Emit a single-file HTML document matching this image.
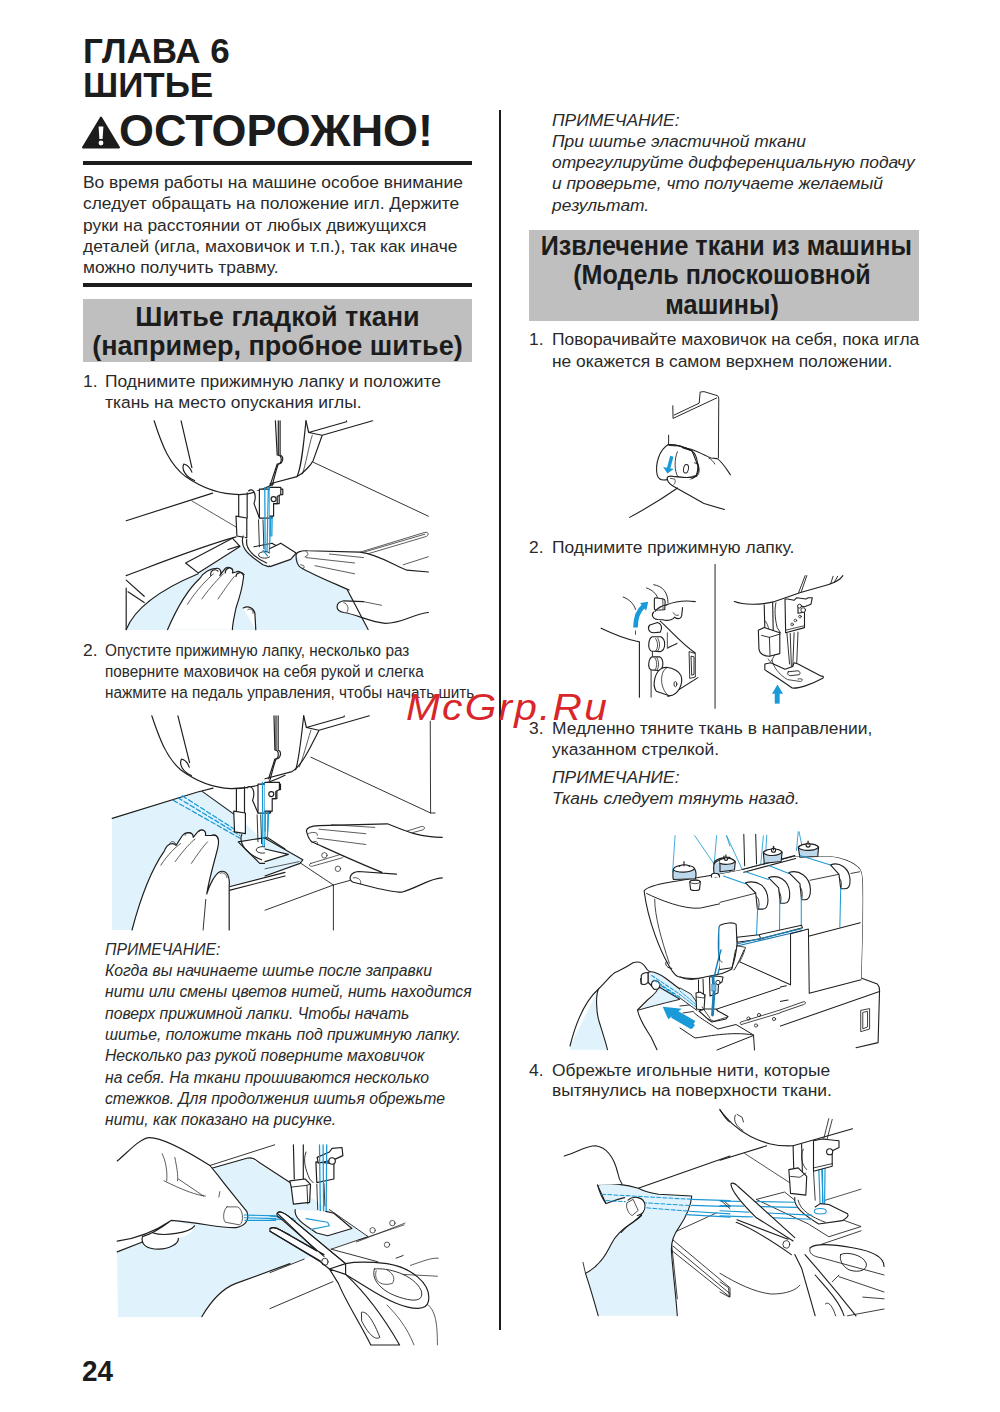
<!DOCTYPE html>
<html><head><meta charset="utf-8">
<style>
html,body{margin:0;padding:0;background:#fff;}
body{width:1000px;height:1412px;position:relative;overflow:hidden;font-family:"Liberation Sans",sans-serif;color:#2a2a2a;}
.a{position:absolute;white-space:nowrap;}
.h1{font-weight:bold;font-size:35px;line-height:35px;color:#1c1c1c;}
.warn{font-weight:bold;font-size:44.9px;line-height:44.5px;color:#1c1c1c;}
.rule{position:absolute;background:#1c1c1c;height:4px;}
.p{font-size:17.4px;line-height:21.3px;}
.gbox{position:absolute;background:#bfbfbf;}
.gh{position:absolute;font-weight:bold;font-size:27px;line-height:29.4px;color:#1c1c1c;text-align:center;white-space:nowrap;}
.it{font-style:italic;}
.num{position:absolute;font-size:17.4px;line-height:21.3px;}
.vline{position:absolute;background:#1c1c1c;}
svg{position:absolute;overflow:visible;}
</style></head><body>
<!-- headings -->
<div class="a h1" style="left:83px;top:32.6px;">ГЛАВА 6</div>
<div class="a h1" style="left:83px;top:67.2px;">ШИТЬЕ</div>
<svg style="left:82px;top:116px;" width="38" height="33" viewBox="0 0 38 33"><path d="M19 1.5 L37 31.5 L1 31.5 Z" fill="#1c1c1c" stroke="#1c1c1c" stroke-width="2" stroke-linejoin="round"/><path d="M16.6 10.5 L21.4 10.5 L20.6 23 L17.4 23 Z" fill="#fff"/><circle cx="19" cy="27" r="2.4" fill="#fff"/></svg>
<div class="a warn" style="left:119px;top:109.2px;">ОСТОРОЖНО!</div>
<div class="rule" style="left:83px;top:161px;width:389px;"></div>
<div class="a p" style="left:83px;top:172.2px;">Во время работы на машине особое внимание<br>следует обращать на положение игл. Держите<br>руки на расстоянии от любых движущихся<br>деталей (игла, маховичок и т.п.), так как иначе<br>можно получить травму.</div>
<div class="rule" style="left:83px;top:282.5px;width:389px;"></div>
<div class="gbox" style="left:83px;top:299px;width:389px;height:62.5px;"></div>
<div class="gh" style="left:83px;width:389px;top:302.8px;">Шитье гладкой ткани<br>(например, пробное шитье)</div>
<!-- left item 1 -->
<div class="num" style="left:83px;top:371.2px;">1.</div>
<div class="a p" style="left:105px;top:371.2px;">Поднимите прижимную лапку и положите<br>ткань на место опускания иглы.</div>
<!-- left item 2 -->
<div class="num" style="left:83px;top:639.5px;">2.</div>
<div class="a p" style="left:105px;top:639.5px;transform:scaleX(0.88);transform-origin:0 0;">Опустите прижимную лапку, несколько раз<br>поверните маховичок на себя рукой и слегка<br>нажмите на педаль управления, чтобы начать шить.</div>
<!-- left note -->
<div class="a p it" style="left:105px;top:938.9px;transform:scaleX(0.905);transform-origin:0 0;">ПРИМЕЧАНИЕ:<br>Когда вы начинаете шитье после заправки<br>нити или смены цветов нитей, нить находится<br>поверх прижимной лапки. Чтобы начать<br>шитье, положите ткань под прижимную лапку.<br>Несколько раз рукой поверните маховичок<br>на себя. На ткани прошиваются несколько<br>стежков. Для продолжения шитья обрежьте<br>нити, как показано на рисунке.</div>
<div class="a" style="left:81.5px;top:1356.4px;font-weight:bold;font-size:30px;line-height:30px;color:#1c1c1c;transform:scaleX(0.93);transform-origin:0 0;">24</div>

<div class="vline" style="left:499px;top:110px;width:2.2px;height:1220px;"></div>

<!-- right column -->
<div class="a p it" style="left:552px;top:109.6px;">ПРИМЕЧАНИЕ:<br>При шитье эластичной ткани<br>отрегулируйте дифференциальную подачу<br>и проверьте, что получаете желаемый<br>результат.</div>
<div class="gbox" style="left:529px;top:230px;width:390px;height:90.5px;"></div>
<div class="gh" style="left:527px;width:390px;top:231.8px;"><div style="transform:scaleX(0.93);">Извлечение ткани из машины<br>(Модель плоскошовной<br>машины)</div></div>
<div class="num" style="left:529px;top:329.4px;">1.</div>
<div class="a p" style="left:552px;top:329.4px;">Поворачивайте маховичок на себя, пока игла<br>не окажется в самом верхнем положении.</div>
<div class="num" style="left:529px;top:536.5px;">2.</div>
<div class="a p" style="left:552px;top:536.5px;">Поднимите прижимную лапку.</div>
<div class="num" style="left:529px;top:718.2px;">3.</div>
<div class="a p" style="left:552px;top:718.2px;line-height:20.5px;">Медленно тяните ткань в направлении,<br>указанном стрелкой.</div>
<div class="a p it" style="left:552px;top:767.4px;line-height:20.5px;">ПРИМЕЧАНИЕ:<br>Ткань следует тянуть назад.</div>
<div class="num" style="left:529px;top:1059.5px;">4.</div>
<div class="a p" style="left:552px;top:1059.5px;line-height:20.6px;">Обрежьте игольные нити, которые<br>вытянулись на поверхности ткани.</div>
<svg style="left:0;top:0;" width="1000" height="1412" viewBox="0 0 1000 1412" fill="none" stroke="#1e1e1e" stroke-linecap="round" stroke-linejoin="round">
<!-- illustration 1 -->
<g id="ill1">
<path d="M126,630 C133,612 155,592 198,574 L240,547 L252,548 L281,543 L297,554 C300,565 330,580 346,588 C355,600 362,615 367,630 Z" fill="#e0f3fc" stroke="none"/>
<g transform="translate(110,410) scale(0.18)" stroke-width="6.5">
 <path d="M245,60 C290,200 330,300 420,370 C520,440 620,470 720,470 C800,468 860,440 909,410" fill="#fff"/>
 <path d="M395,60 L455,320"/>
 <path d="M410,300 C395,330 420,370 470,392 M410,300 C430,305 445,320 455,345"/>
 <path d="M90,615 L570,462"/>
 <path d="M455,505 L700,650" stroke-width="4"/>
 <path d="M90,920 C250,860 500,760 700,705"/>
 <path d="M420,850 L680,712 L722,758 L490,905 Z" fill="#fff"/>
 <path d="M655,775 L720,755"/>
 <path d="M90,945 L190,1035 M90,990 L90,1220 M100,1010 L190,1070"/>
 <path d="M90,1220 C130,1120 250,1010 490,910"/>
 <path d="M715,470 L715,600 M762,460 L762,600"/>
 <path d="M700,590 L760,600 L760,710 L705,700 Z" fill="#fff"/>
 <path d="M740,700 C720,760 760,800 850,860 L880,870 C960,840 1000,810 1000,800 L900,740 L800,760" fill="#fff"/>
 <path d="M760,720 C750,770 800,820 870,850"/>
 <path d="M770,450 C790,430 820,460 800,520 L830,600 L900,600 L910,450" fill="#fff"/>
 <path d="M830,440 L960,440 L960,470 L940,470 L940,520 L900,520 L900,600 L830,600 Z" fill="#fff"/>
 <circle cx="910" cy="495" r="14" fill="#fff"/>
 <path d="M825,610 L830,760 M850,610 L855,770" stroke-width="5"/>
 <path d="M860,430 L862,800 M880,430 L872,800 M900,430 L885,790" stroke="#1a98d5" stroke-width="7"/>
 <ellipse cx="860" cy="805" rx="35" ry="18" fill="#fff" stroke-width="5"/>
 <path d="M850,780 L875,810" stroke="#1a98d5" stroke-width="7"/>
 <path d="M935,60 L935,250 M945,60 L945,250 C970,260 960,300 935,300 C920,340 910,390 900,420" />
 <path d="M320,1220 C380,1080 440,990 500,935 C520,900 560,880 590,880 C610,875 625,900 610,920 L640,880 C660,865 690,880 680,905 L700,900 C720,890 750,910 740,940 C735,990 720,1040 700,1100 C690,1150 680,1190 680,1220" fill="#fff"/>
 <path d="M560,920 C555,890 585,880 600,895 M640,905 C640,880 665,870 680,885 M700,925 C700,905 730,895 745,915" />
 <path d="M430,1080 C480,1000 540,940 575,910 M510,1050 C560,980 600,940 630,910 M600,1050 C640,990 670,950 690,925" stroke-width="4"/>
 <path d="M740,1100 C770,1085 800,1100 805,1130 L810,1220" fill="#fff"/>
 <path d="M765,1110 C775,1100 795,1105 795,1130" stroke-width="4"/>
</g>
<g transform="translate(270,410) scale(0.18)" stroke-width="6.5">
 <path d="M0,410 L150,370 C190,350 230,300 240,280 L290,140 L570,60 M200,60 L215,125 L290,140 M215,125 L425,65 L425,60" fill="none"/>
 <path d="M200,60 C185,200 175,320 150,370" />
 <path d="M235,140 C215,200 200,300 180,355" stroke-width="4"/>
 <path d="M30,60 L40,250 C70,250 70,300 40,300 L0,420" />
 <path d="M240,290 L880,590" stroke-width="5"/>
 <path d="M0,770 L60,740 L145,795 L115,830 L0,870" fill="#fff"/>
 <path d="M500,790 L860,680 C885,675 885,700 860,705 L540,800" stroke-width="4"/>
 <path d="M520,790 L860,690" stroke-width="4"/>
 <path d="M740,860 L880,815" stroke-width="4"/>
 <path d="M145,815 C140,790 170,780 210,782 L500,790 C600,800 700,870 760,890 L880,900 L880,1125 C800,1130 740,1185 640,1185 C560,1180 480,1135 410,1125 C360,1115 360,1070 410,1060 L520,1065 L440,1000 C350,960 250,920 180,880 C150,870 155,830 170,830 Z" fill="#fff" stroke="none"/>
 <path d="M145,815 C140,790 170,780 210,782 L500,790 C600,800 700,870 760,890 L880,900 M880,1125 C800,1130 740,1185 640,1185 C560,1180 480,1135 410,1125 C360,1115 360,1070 410,1060 L520,1065 M440,1000 C350,960 250,920 180,880 C150,870 145,830 145,815"/>
 <path d="M200,785 C215,795 215,810 195,815 M170,860 C190,860 200,875 180,882" stroke-width="4"/>
 <path d="M200,820 L470,850 M250,865 L470,910 M330,800 L520,820" stroke-width="4"/>
 <path d="M430,1000 L545,1220" />
 <path d="M410,1070 C430,1075 440,1100 430,1120 M520,1065 L620,1085" stroke-width="4"/>
 <path d="M0,430 L0,700 M15,430 L10,700" stroke="#1a98d5" stroke-width="7"/>
 <path d="M0,430 L60,430 L60,470 L40,480 L40,520 L20,520 L20,590 L0,590" fill="#fff"/>
 <circle cx="20" cy="495" r="14" fill="#fff"/>
</g>
</g>

<!-- illustration 2 -->
<g id="ill2">
<path d="M112,818 L197,792 L202,791 L235,813 L285,863 L303,860 L300,863 L265,876 L229,887 L229,930 L112,930 Z" fill="#e0f3fc" stroke="none"/>
<g transform="translate(105,705) scale(0.18)" stroke-width="6.5">
 <path d="M260,60 C300,180 340,290 420,360 C500,420 600,460 700,465 C820,465 920,430 1000,390" fill="#fff"/>
 <path d="M405,60 L470,320"/>
 <path d="M425,300 C410,330 430,370 480,392 M425,300 C445,305 460,320 468,345"/>
 <path d="M40,630 L510,485 L600,462"/>
 <path d="M540,480 L735,620" stroke-width="6"/>
 <path d="M380,530 L750,740 M405,515 L750,725 M430,505 L750,710" stroke="#1a98d5" stroke-width="7" stroke-dasharray="26,14"/>
 <path d="M730,465 L730,600 M775,455 L775,600"/>
 <path d="M715,590 L780,600 L780,715 L720,705 Z" fill="#fff"/>
 <path d="M740,760 L900,735 L1000,800 L1000,880 L860,880 Z" fill="#fff"/>
 <path d="M760,720 C740,770 790,830 870,860"/>
 <path d="M790,460 C810,440 840,470 820,530 L850,600 L920,600 L930,460" fill="#fff"/>
 <path d="M850,440 L975,440 L975,470 L955,470 L955,520 L915,520 L915,600 L850,600 Z" fill="#fff"/>
 <circle cx="925" cy="495" r="14" fill="#fff"/>
 <path d="M845,610 L850,760 M865,610 L870,770" stroke-width="5"/>
 <path d="M875,430 L877,800 M895,430 L887,800 M915,430 L900,790" stroke="#1a98d5" stroke-width="7"/>
 <ellipse cx="875" cy="805" rx="35" ry="18" fill="#fff" stroke-width="5"/>
 <path d="M950,60 L950,250 M962,60 L962,250 C985,260 975,300 950,300 C935,340 925,390 915,420"/>
 <path d="M690,1010 L1000,930 M690,1030 L1000,950"/>
 <path d="M150,1250 C200,1060 260,910 330,810 C345,770 380,760 395,780 L430,725 C450,700 490,705 490,735 L515,705 C535,685 565,695 558,725 L590,725 C625,715 640,745 625,800 C605,880 580,960 565,1050 C580,1000 610,940 640,925 C680,915 695,960 690,1010 L690,1250" fill="#fff"/>
 <path d="M360,770 C365,755 385,755 392,770 M445,725 C450,705 480,705 488,720 M520,705 C530,690 555,690 558,710 M590,725 C605,715 630,720 628,745 M640,935 C655,925 675,940 678,960" stroke-width="4"/>
 <path d="M310,890 C350,830 390,790 420,770 M390,870 C440,800 480,760 500,745 M480,880 C520,820 550,780 570,760" stroke-width="4"/>
 <path d="M545,1250 L560,1080" stroke-width="5"/>
</g>
<g transform="translate(265,705) scale(0.18)" stroke-width="6.5">
 <path d="M0,410 L150,370 C200,340 240,260 300,140 L580,60 M215,60 L230,125 L300,140 M230,125 L440,65 L440,60"/>
 <path d="M215,60 C200,200 185,320 170,360"/>
 <path d="M255,140 C230,220 210,300 190,345" stroke-width="4"/>
 <path d="M50,60 L55,250 C80,250 80,300 55,300 L20,410"/>
 <path d="M255,290 L920,600 L945,600 M918,90 L920,600" stroke-width="5"/>
 <path d="M0,740 L210,860 L195,880 L0,950" fill="#e0f3fc"/>
 <path d="M0,910 L190,870" stroke-width="4"/>
 <path d="M200,880 L380,1000 L380,1250 M380,1000 L470,975 M0,1140 L380,1000" stroke-width="5"/>
 <path d="M255,880 L420,830 C440,825 445,845 425,850 L265,895 C245,900 240,885 255,880 Z" stroke-width="4"/>
 <circle cx="330" cy="835" r="15" stroke-width="4"/>
 <circle cx="405" cy="910" r="15" stroke-width="4"/>
 <path d="M790,700 L870,675 C890,672 892,690 872,695 L810,712" stroke-width="4"/>
 <path d="M230,700 C230,680 260,672 300,670 L680,660 C760,690 840,735 985,735 L985,960 C920,960 860,1010 760,1040 C680,1040 560,1000 490,985 C460,970 470,930 520,925 L640,930 C500,870 350,800 260,760 C240,745 235,720 230,700 Z" fill="#fff" stroke="none"/>
 <path d="M230,700 C230,680 260,672 300,670 L680,660 C760,690 840,735 985,735 M985,960 C920,960 860,1010 760,1040 C680,1040 560,1000 490,985 C460,970 470,930 520,925 L730,940 M650,930 C500,870 350,800 260,760 C240,745 235,720 230,700"/>
 <path d="M300,690 L560,715 M290,740 L560,775 M370,665 L610,680" stroke-width="4"/>
 <path d="M240,715 C270,700 300,710 290,725 M260,765 C280,750 300,760 290,775 M490,960 C520,955 540,975 530,995" stroke-width="4"/>
 <path d="M0,430 L0,700 M20,430 L15,700" stroke="#1a98d5" stroke-width="7"/>
 <path d="M0,430 L80,430 L80,470 L60,480 L60,520 L40,520 L40,590 L0,590" fill="#fff"/>
 <circle cx="35" cy="495" r="14" fill="#fff"/>
 <path d="M0,800 L130,830 L0,870" fill="#fff"/>
</g>
</g>

<!-- illustration 3 -->
<g id="ill3">
<path d="M117,1252 L118,1317 L202,1317 C210,1300 225,1288 236,1283 L304,1259 L331,1249 L367,1236 L329,1210 L290,1183 L249,1158 L212,1168 L180,1222 L142,1242 Z" fill="#e0f3fc" stroke="none"/>
<g transform="translate(110,1125) scale(0.18)" stroke-width="6.5">
 <path d="M555,225 L915,110" stroke-width="5"/>
 <path d="M565,240 L760,185 C790,178 805,190 825,205 L1000,320"/>
 <path d="M40,705 L180,650"/>
 <path d="M510,1065 C560,980 620,910 700,880 L1000,770"/>
 <path d="M40,200 C100,150 170,70 220,70 C290,70 420,140 555,225 L600,280 C660,360 720,430 760,480 C775,520 760,560 700,570 C620,575 520,545 340,530 C250,590 150,630 40,645 Z" fill="#fff" stroke="none"/>
 <path d="M180,615 C170,660 200,690 270,690 C330,690 380,660 380,630 C420,620 460,600 470,560 L340,530 Z" fill="#fff" stroke="none"/>
 <path d="M40,200 C100,150 170,70 220,70 C290,70 420,140 555,225 L600,280 C660,360 720,430 760,480 C775,520 760,560 700,570 C620,575 520,545 340,530 C300,560 250,600 180,620 C170,660 200,690 270,690 C330,690 380,660 380,630 M240,600 C300,620 440,600 470,560 M40,645 C150,630 250,590 340,530"/>
 <path d="M650,455 L710,455 C740,470 745,540 720,555 L640,540 C625,520 630,470 650,455 Z" stroke-width="4"/>
 <path d="M290,160 C310,200 320,260 315,310 M360,180 C370,230 380,280 375,310 M300,310 C400,360 480,390 530,395 M380,300 L520,395 M610,370 L605,400" stroke-width="4"/>
 <path d="M745,500 L920,505 M745,515 L920,520 M750,530 L920,530" stroke="#1a98d5" stroke-width="6"/>
 <path d="M930,490 C940,475 970,495 1000,520 M900,580 C885,565 920,568 1000,610" stroke-width="5"/>
</g>
<g transform="translate(270,1125) scale(0.18)" stroke-width="6.5">
 <path d="M480,650 L750,545 M490,640 L745,555" stroke-width="4"/>
 <circle cx="570" cy="585" r="15" stroke-width="4"/><circle cx="680" cy="545" r="15" stroke-width="4"/><circle cx="650" cy="665" r="15" stroke-width="4"/>
 <path d="M340,690 L600,760 M0,1020 L350,870 M700,740 L740,725 M0,820 L190,745 M340,690 L545,620 L330,470" stroke-width="5"/>
 <path d="M130,110 L135,300 M185,110 L185,330"/>
 <path d="M200,150 C180,200 200,250 220,300 L240,320" stroke-width="5"/>
 <path d="M255,205 L260,320 L355,300 L355,215 Z" fill="#fff"/>
 <path d="M262,180 L330,150 L345,130 L400,125 L405,170 L350,195 L268,212 Z" fill="#fff"/>
 <circle cx="345" cy="200" r="18" fill="#fff"/>
 <path d="M110,310 L195,300 L225,330 L220,430 L130,440 L118,345 Z" fill="#fff"/>
 <path d="M118,345 L205,335 L220,330 M205,335 L210,438" stroke-width="5"/>
 <path d="M300,325 L305,450 M260,330 L265,470" stroke-width="5"/>
 <path d="M275,110 L280,500 M295,110 L298,510 M315,110 L312,500" stroke="#1a98d5" stroke-width="7"/>
 <path d="M140,470 C130,520 200,560 260,600 L320,615 L455,575 L355,490 L310,480" fill="#fff"/>
 <path d="M200,520 L320,540 L330,560 L230,580" stroke="#1a98d5" stroke-width="6"/>
 <path d="M0,505 L130,520 M0,520 L140,530" stroke="#1a98d5" stroke-width="6"/>
 <path d="M40,490 C50,475 75,485 100,505 L420,770 L330,800 L280,760 L0,590 L0,575 C20,565 40,572 60,585 L260,700 Z" fill="#fff"/>
 <path d="M40,490 C50,475 75,485 100,505 L420,770 M40,490 C35,500 40,510 60,520 L300,730 M0,575 C20,565 40,572 60,585 L300,720 M0,590 L280,755" />
 <ellipse cx="305" cy="760" rx="18" ry="20" stroke-width="5"/>
 <path d="M420,770 C470,760 560,760 650,770 C780,790 900,880 880,980 C870,1030 800,1030 700,990 C600,950 540,900 420,830 Z" fill="#fff"/>
 <path d="M580,800 C650,790 800,830 840,920 C860,990 780,980 700,950 C620,920 560,860 580,800 Z" stroke-width="5"/>
 <path d="M590,810 C575,860 610,900 680,880 C700,850 680,820 650,805" stroke-width="4"/>
 <path d="M330,800 L380,880 C420,980 500,1100 560,1222 L720,1222 C650,1100 560,960 420,830 Z" fill="#fff"/>
 <path d="M510,1040 C540,1030 580,1100 610,1180 C580,1200 540,1150 510,1090 Z" stroke-width="5"/>
 <path d="M780,780 C840,760 900,735 935,740 M740,830 L930,840 M880,1000 C920,1040 930,1100 930,1222 M650,1000 C700,1050 760,1120 800,1222" stroke-width="4"/>
</g>
</g>

<!-- illustration 4: flywheel -->
<g id="ill4" transform="translate(620,380) scale(0.12)" stroke-width="9">
 <path d="M440,215 L442,320 L805,150 M452,292 L660,193 L668,100 L700,97 L810,130 C820,135 823,145 823,160 L820,650" stroke-width="8"/>
 <path d="M405,460 L405,530" stroke-width="8"/>
 <path d="M400,540 C330,580 290,700 310,790 C320,830 350,840 395,830 L460,805 C540,815 620,820 640,790 C660,760 660,700 640,690 L600,590 C540,560 470,530 400,540 Z" fill="#fff"/>
 <path d="M400,540 C450,532 540,560 600,592 C650,630 660,740 635,795 C615,825 580,830 540,820" fill="none"/>
 <path d="M478,598 C452,660 452,760 482,805" stroke-width="7"/>
 <ellipse cx="550" cy="740" rx="20" ry="36" transform="rotate(10 550 740)" stroke-width="8"/>
 <path d="M640,700 C665,705 670,790 640,800 M620,690 L650,700 M610,800 L640,805" stroke-width="7"/>
 <path d="M410,545 L470,550 M530,570 L600,590" stroke-width="7"/>
 <path d="M520,565 C600,560 680,620 760,650 L810,655 C850,680 880,730 920,790" />
 <path d="M740,650 C760,660 780,680 790,700" stroke-width="7"/>
 <path d="M395,830 C385,805 410,795 450,805 L510,810 C560,815 620,815 640,790 L470,900 C430,890 400,860 395,830 Z" fill="#fff" stroke="none"/>
 <path d="M395,830 C385,805 410,795 450,805 L510,810 C560,815 620,815 640,790"/>
 <path d="M395,830 C400,860 430,880 470,900 C560,950 650,1000 700,1030 L870,1080"/>
 <path d="M420,820 L455,825 C465,840 460,860 450,870" stroke-width="6"/>
 <path d="M80,1145 C200,1080 380,970 480,900"/>
 <path d="M432,635 L405,735" stroke="#1a9ad8" stroke-width="28" stroke-linecap="butt"/>
 <path d="M360,725 L395,780 L448,742 Z" fill="#1a9ad8" stroke="none"/>
</g>

<!-- illustration 5: lever + presser foot -->
<g id="ill5a" transform="translate(590,560) scale(0.13)" stroke-width="8.5">
 <path d="M962,35 L962,1140" stroke="#555" stroke-width="10"/>
 <path d="M85,525 C180,570 280,610 360,625 L380,630 L380,1055"/>
 <path d="M470,850 L470,1055 M480,700 L480,740" stroke-width="7"/>
 <path d="M255,285 C300,300 340,340 350,380 M435,215 C480,230 510,260 520,290 M490,190 C560,200 600,250 600,330" stroke-width="7"/>
 <path d="M505,290 L565,300 C575,302 578,310 578,320 L575,385 L505,385 C498,385 495,380 495,370 L495,300 C495,293 500,290 505,290 Z" fill="#fff"/>
 <path d="M560,300 L562,385" stroke-width="6"/>
 <path d="M590,345 C650,320 730,310 810,320" />
 <path d="M540,470 C620,540 700,640 810,715" />
 <path d="M595,560 L595,680 L670,640 M600,672 L668,645" stroke-width="6"/>
 <path d="M460,500 C440,520 450,560 490,560 L540,555 C560,520 550,490 520,480 Z" fill="#fff"/>
 <path d="M490,400 C470,420 480,455 520,458 L560,460 C600,470 640,460 650,440 C680,460 700,450 705,430 L712,365 M590,345 C560,350 520,370 500,395" fill="#fff"/>
 <path d="M640,405 C650,420 660,430 680,425" stroke-width="6"/>
 <path d="M480,590 C450,600 440,680 470,700 L540,705 C585,690 585,610 545,590 Z" fill="#fff"/>
 <path d="M505,605 C525,630 525,680 505,700 M520,600 C540,630 540,680 520,700" stroke-width="6"/>
 <path d="M480,745 C450,755 440,830 470,845 L530,850 C570,835 570,765 535,745 Z" fill="#fff"/>
 <path d="M500,755 C518,780 518,825 500,845 M515,752 C532,780 532,825 515,848" stroke-width="6"/>
 <path d="M600,1050 L830,905" />
 <path d="M765,705 L810,720 L810,900 L770,910 Z M780,740 L800,745 L800,880 L785,885 Z" stroke-width="7"/>
 <path d="M560,830 C500,850 475,960 510,1010 L610,1045 C680,1040 720,950 700,890 C690,860 640,830 590,825 Z" fill="#fff"/>
 <path d="M590,830 C540,850 530,980 600,1040" stroke-width="6"/>
 <ellipse cx="657" cy="955" rx="11" ry="20" stroke-width="7"/>
 <path d="M350,520 C350,440 375,385 415,352" stroke="#1a9ad8" stroke-width="36" stroke-linecap="butt"/>
 <path d="M385,330 L448,322 L432,390 Z" fill="#1a9ad8" stroke="none"/>
 <path d="M350,545 L350,572" stroke-width="6"/>
</g>
<g id="ill5b" transform="translate(720,560) scale(0.13)" stroke-width="8.5">
 <path d="M110,320 C180,345 300,350 420,320 L620,250 L830,190 C880,175 920,160 945,120"/>
 <path d="M605,250 L655,120 M625,245 L668,120 M850,185 L870,125 M880,170 L905,125" stroke-width="7"/>
 <path d="M340,345 L345,530 M405,330 L410,575" />
 <path d="M430,330 C420,380 420,440 440,520 L465,560" stroke-width="7"/>
 <path d="M350,470 C370,500 380,540 385,580" stroke-width="6"/>
 <path d="M515,565 L535,800 M540,565 L550,840 M570,560 L560,820 M600,555 L590,800" stroke-width="7"/>
 <path d="M500,300 L505,560 L650,520 L650,400 L600,410 L600,350 L650,360 L700,340 L710,290 L680,290 L660,300 L590,290 L570,310 L520,300 Z" fill="#fff"/>
 <path d="M505,540 L650,505" stroke-width="6"/>
 <circle cx="615" cy="435" r="10" stroke-width="6"/><circle cx="580" cy="465" r="10" stroke-width="6"/><circle cx="555" cy="495" r="10" stroke-width="6"/>
 <circle cx="640" cy="385" r="18" fill="#fff" stroke-width="7"/><circle cx="612" cy="355" r="15" fill="#fff" stroke-width="7"/>
 <path d="M295,540 L300,690 C305,720 340,740 380,740 L460,720 L460,560 L340,520 Z" fill="#fff"/>
 <path d="M320,580 L380,595 L385,740 M380,595 L460,570" stroke-width="7"/>
 <path d="M345,800 L345,845 C400,880 480,930 555,985 C600,990 700,960 790,910 C800,900 795,890 780,895 L600,800 L570,790 L560,820 L500,840 L390,790 Z" fill="#fff"/>
 <path d="M525,860 L600,852 C615,855 620,875 610,882 L540,890 C520,888 515,865 525,860 Z" stroke-width="7"/>
 <path d="M400,770 C410,820 450,880 520,920 L620,935 C650,920 630,910 600,915" stroke-width="6"/>
 <path d="M370,760 C380,780 390,790 400,770 L420,730" stroke-width="6"/>
 <path d="M440,1105 L440,1020" stroke="#1a9ad8" stroke-width="38" stroke-linecap="butt"/>
 <path d="M400,1028 L442,958 L485,1028 Z" fill="#1a9ad8" stroke="none"/>
</g>

<!-- illustration 6: overlock machine -->
<g id="ill6">
<g transform="translate(570,825) scale(0.1629)" stroke-width="6.8">
 <path d="M455,405 C470,380 560,360 620,350 L982,290 L982,900 C900,930 760,960 660,930 C630,910 615,880 600,850 C560,780 480,600 455,420 Z" fill="#fff" stroke="none"/>
 <path d="M982,290 L620,350 C560,360 470,380 455,405 C480,600 560,780 600,850 C615,880 630,910 660,930 C760,960 900,930 982,900"/>
 <path d="M470,420 C550,460 700,520 800,510 L982,470" stroke-width="6"/>
 <path d="M520,455 C520,560 560,700 610,850" stroke-width="5"/>
 <path d="M590,840 C580,860 600,880 625,880" stroke-width="6"/>
 <path d="M645,65 L630,290" stroke="#1a98d5" stroke-width="5"/>
 <path d="M765,65 L885,240 M900,65 L885,240 M960,65 L982,130" stroke="#1a98d5" stroke-width="5"/>
 <path d="M635,270 C630,300 630,320 635,335 L770,330 C778,300 772,280 765,268 Z" fill="#bcd8ea"/>
 <path d="M635,270 C650,240 750,240 765,268 C745,295 655,295 635,275" fill="#fff"/>
 <path d="M670,255 C680,240 725,240 735,255" fill="#fff"/><path d="M700,225 L700,250" stroke-width="7"/>
 <path d="M885,230 C900,200 982,195 982,200 L982,300 L890,320 C880,290 880,260 885,230 Z" fill="#bcd8ea"/>
 <path d="M885,240 C905,205 982,205 982,210" fill="#fff"/><path d="M945,190 L945,220" stroke-width="7"/>
 <path d="M870,320 C860,300 880,290 910,300 L920,320" fill="#fff"/>
 <path d="M735,350 C735,335 800,335 800,350 L795,395 C790,405 745,405 740,395 Z" fill="#fff"/>
 <ellipse cx="767" cy="348" rx="30" ry="12" stroke-width="5"/>
 <path d="M915,625 C940,600 982,600 982,600 M915,625 C910,700 910,800 920,830 C930,850 920,870 900,940 L870,1000" stroke="#1a7fb5" stroke-width="8"/>
 <path d="M925,640 C920,720 920,800 930,830" stroke-width="5"/>
</g>
<g transform="translate(720,825) scale(0.17)" stroke-width="6.5">
 <path d="M0,290 L130,265 L440,185 L640,185 C700,190 790,215 825,265 C840,300 840,330 838,570 L830,900 L925,935 C940,950 940,970 938,990 L930,1280 L800,1310" fill="#fff"/>
 <path d="M0,290 L130,265 L440,185 L640,185 C700,190 790,215 825,265 C840,300 840,330 838,570 L830,910 L525,990 L520,610 L415,640 L415,940 L120,810 L100,700 L0,700 Z" fill="#fff" stroke="none"/>
 <path d="M130,262 L440,180 M140,278 L445,197" stroke-width="7"/>
 <path d="M140,55 L145,240 M210,55 L215,230" stroke-width="6"/>
 <path d="M40,65 L130,260 M255,65 L240,230 M275,60 L265,230 M460,40 L450,150 M465,40 L490,160" stroke="#1a98d5" stroke-width="5"/>
 <path d="M0,205 C10,195 80,195 90,215 L85,265 L0,275 Z" fill="#bcd8ea"/><path d="M0,205 C20,190 70,190 88,215 C70,235 20,235 0,225" fill="#fff"/><circle cx="35" cy="198" r="10" fill="#fff"/><path d="M35,175 L35,195"/>
 <path d="M255,160 C270,140 350,140 365,160 L360,215 L260,225 Z" fill="#bcd8ea"/><path d="M258,160 C280,135 350,135 365,160 C345,185 280,185 258,165" fill="#fff"/><circle cx="315" cy="148" r="12" fill="#fff"/><path d="M315,125 L315,145"/>
 <path d="M460,130 C475,110 560,110 580,130 L575,185 L470,190 Z" fill="#bcd8ea"/><path d="M462,130 C485,105 560,105 580,130 C560,155 485,155 462,135" fill="#fff"/><circle cx="518" cy="118" r="12" fill="#fff"/><path d="M518,95 L518,115"/>
 <path d="M20,300 L150,345 M150,275 L285,320 M290,240 L405,285 M470,180 L650,235" stroke="#1a98d5" stroke-width="6"/>
 <path d="M0,455 L215,400 M530,325 L700,290 M770,285 L822,275" stroke-width="5"/>
 <path d="M150,340 C220,320 280,360 282,440 C283,480 270,495 250,495 L220,495 L210,400 Z" fill="#fff"/>
 <path d="M285,310 C340,290 405,320 410,400 C412,440 400,460 380,460 L355,460 L345,370 Z" fill="#fff"/>
 <path d="M405,280 C460,260 530,300 532,380 C533,420 520,440 500,440 L480,440 L470,345 Z" fill="#fff"/>
 <path d="M650,235 C700,215 760,250 765,320 C767,360 755,375 735,375 L710,375 L700,290 Z" fill="#fff"/>
 <path d="M215,420 C230,430 235,470 225,495 M345,390 C360,400 362,440 355,460 M470,365 C485,375 487,415 480,440 M700,310 C715,320 718,355 710,375" stroke-width="5"/>
 <path d="M222,470 L215,650 M352,440 L350,620 M478,420 L478,600 M710,370 L705,600" stroke="#1a98d5" stroke-width="6"/>
 <path d="M100,660 L230,645 L240,670 L100,690 Z M230,645 L480,590 L485,605 L240,670" stroke-width="6" fill="#fff"/>
 <path d="M100,700 L480,610 M100,712 L480,622" stroke="#1a7fb5" stroke-width="7"/>
 <path d="M415,640 L520,612 L525,990 L830,910 M415,640 L415,940 M520,655 L825,575" stroke-width="6"/>
 <path d="M0,590 C30,575 80,570 95,585 L100,700 C95,760 85,800 70,840 L0,850" fill="#fff"/>
 <path d="M100,710 L150,720 C140,760 120,800 100,830" stroke-width="5"/>
 <path d="M120,810 L415,940 M0,1030 L390,945 M0,1100 L400,1030" stroke-width="6"/>
 <path d="M0,1140 L200,1240 L205,1320 M190,1240 L938,980" stroke-width="6"/>
 <path d="M120,1170 L490,1040 C505,1035 508,1050 492,1056 L132,1180 C115,1185 110,1172 120,1170 Z" stroke-width="5"/>
 <circle cx="165" cy="1137" r="10" stroke-width="5"/><circle cx="230" cy="1117" r="10" stroke-width="5"/><circle cx="315" cy="1145" r="10" stroke-width="5"/><circle cx="210" cy="1180" r="10" stroke-width="5"/>
 <path d="M830,1090 L880,1080 L880,1200 L830,1215 Z M842,1102 L868,1096 L868,1188 L842,1198 Z" stroke-width="5"/>
</g>
<g transform="translate(570,950) scale(0.15)" stroke-width="7.3">
 <path d="M0,640 C40,480 100,340 190,260 C170,300 175,420 195,480 C220,560 240,620 250,665 L0,665 Z" fill="#e0f3fc" stroke="none"/>
 <path d="M600,235 L810,300 L470,400 C500,360 560,310 600,235 Z" fill="#e0f3fc" stroke="none"/>
 <path d="M450,402 C600,360 800,310 1000,270" stroke-width="6.5"/>
 <path d="M0,640 C40,480 100,340 190,260 C230,220 270,170 300,150 C340,130 370,120 420,85 C450,75 480,80 500,110 C510,130 520,140 540,150 L600,225 C590,270 560,300 520,330 C500,350 470,380 450,400 C460,450 500,520 540,580 L580,665 L250,665 C240,620 220,560 195,480 C175,420 170,300 190,260" fill="#fff" stroke="none"/>
 <path d="M0,640 C40,480 100,340 190,260 C230,220 270,170 300,150 C340,130 370,120 420,85 C450,75 480,80 500,110 C510,130 520,140 540,150 M600,225 C590,270 560,300 520,330 C500,350 470,380 450,400 C460,450 500,520 540,580 L580,665"/>
 <path d="M190,260 C170,300 175,420 195,480 C220,560 240,620 250,665"/>
 <path d="M470,190 L475,225 C490,232 510,228 520,215 M548,212 C560,198 590,202 600,228 C602,250 585,268 560,260" fill="#fff"/>
 <path d="M520,150 C545,135 600,160 640,190 L870,365 L855,400 L600,250 L560,255 L520,215 Z" fill="#e0f3fc"/>
 <path d="M548,212 C560,198 590,202 600,228 C602,250 585,268 560,260 C545,250 540,230 548,212 Z" fill="#fff"/>
 <path d="M475,170 L475,225 C490,232 510,228 520,215 L520,150 C500,150 480,160 475,170 Z" fill="#fff"/>
 <path d="M545,170 L860,380 M560,200 L850,392 M610,240 L840,400" stroke="#1a98d5" stroke-width="7" stroke-dasharray="24,13"/>
</g>
<g transform="translate(680,950) scale(0.1)" stroke-width="11">
 <path d="M0,200 L0,1000 L1000,1000 L1000,300 L600,120 L520,190 L420,235 L250,270 C150,300 60,300 0,270 Z" fill="#fff" stroke="none"/>
 <path d="M0,270 C60,300 150,300 250,270 L420,235 C470,220 500,200 520,190" />
 <path d="M555,0 L520,185 M640,0 C600,90 570,160 540,200" stroke-width="10"/>
 <path d="M600,120 L1000,300" stroke-width="10"/>
 <path d="M370,590 L1000,380" stroke-width="10"/>
 <path d="M610,720 L1000,600 M615,745 L1000,630 M610,720 C595,730 600,745 615,745" stroke-width="8"/>
 <circle cx="685" cy="685" r="16" stroke-width="8"/><circle cx="790" cy="650" r="16" stroke-width="8"/><circle cx="940" cy="690" r="16" stroke-width="8"/><circle cx="760" cy="755" r="16" stroke-width="8"/>
 <path d="M0,560 L180,540 M30,630 L130,615" stroke-width="9"/>
 <path d="M130,615 C150,640 200,680 380,790 L560,745 L735,850 L745,1000 M0,780 L150,880 C250,870 500,810 735,850 M370,1000 L735,855" stroke-width="10"/>
 <path d="M0,650 L150,750 L120,790 L0,720 Z" fill="#1a9ad8" stroke="none"/>
 <path d="M0,380 L110,440 L200,570 L170,605 L0,480 Z" fill="#e0f3fc" stroke="none"/>
 <path d="M0,380 L110,440 L200,570 M0,480 L170,605" stroke-width="9"/>
 <path d="M0,410 L190,570 M0,445 L180,585" stroke="#1a98d5" stroke-width="9" stroke-dasharray="30,14"/>
 <path d="M185,300 L185,430 M230,290 L235,440" stroke-width="10"/>
 <path d="M160,430 L165,590 L240,600 L250,450 L200,420 Z" fill="#fff"/>
 <path d="M165,470 L240,480 L250,450" stroke-width="8"/>
 <path d="M190,610 L290,700 L320,720 L460,690 L480,665 L380,610 L360,590 L250,590 Z" fill="#fff"/>
 <path d="M290,690 L340,712 L470,672 M220,570 L300,680" stroke-width="8"/>
 <path d="M410,0 C380,100 360,180 345,260" stroke="#1a7fb5" stroke-width="14"/>
 <path d="M395,60 C390,90 400,120 420,120" stroke-width="8"/>
 <path d="M295,270 L300,460 L380,430 L385,340 L420,320 L430,270 L360,260 Z" fill="#fff"/>
 <circle cx="380" cy="325" r="22" fill="#fff" stroke-width="9"/>
 <path d="M330,270 L340,420 L325,650" stroke="#1a7fb5" stroke-width="28"/>
 <path d="M320,340 L360,340 L360,410 L320,410 Z" fill="#6fb6e0" stroke="#1a7fb5" stroke-width="6"/>
</g>
<g transform="translate(570,950) scale(0.15)" stroke-width="7.3">
 <path d="M820,500 L690,425" stroke="#1a9ad8" stroke-width="62" stroke-linecap="butt"/>
 <path d="M618,378 L745,392 L655,462 Z" fill="#1a9ad8" stroke="none"/>
</g>
</g>

<!-- illustration 7: cut threads -->
<g id="ill7">
<g transform="translate(720,1105) scale(0.17)" stroke-width="6.5">
 <path d="M0,30 C40,80 90,140 180,185 C250,220 320,245 430,240 L780,140" />
 <path d="M90,60 C75,95 100,130 135,150 M100,55 L130,72 L138,100" stroke-width="5"/>
 <path d="M0,325 L275,240" />
 <path d="M145,285 L430,470" stroke-width="4.5"/>
 <path d="M640,80 L610,200 M660,85 L630,200" stroke-width="5"/>
 <path d="M620,560 L830,495" stroke-width="4.5"/>
 <path d="M215,555 L380,512 L440,560 L540,610 L830,715 L640,775 L520,700 Z" fill="#fff" stroke-width="5"/>
 <path d="M430,240 L435,420 M480,230 L485,410" />
 <path d="M490,260 C470,300 480,350 510,380" stroke-width="5"/>
 <path d="M405,380 L415,520 L505,530 L510,420 L460,370 Z" fill="#fff"/>
 <path d="M415,420 L470,425 L505,400" stroke-width="5"/>
 <path d="M550,390 L560,560 M600,380 L605,590" stroke-width="5"/>
 <path d="M575,200 L590,620 M600,200 L605,620 M620,200 L615,610" stroke="#1a98d5" stroke-width="7"/>
 <path d="M550,210 L550,390 L660,360 L660,290 L640,280 L700,250 L700,210 L600,200 Z" fill="#fff"/>
 <path d="M550,370 L660,345" stroke-width="5"/>
 <circle cx="645" cy="275" r="18" fill="#fff"/>
 <path d="M440,545 C430,600 500,650 580,700 L720,680 C750,660 760,650 750,640 L640,585 L590,580 L560,600" fill="#fff"/>
 <ellipse cx="590" cy="625" rx="35" ry="16" stroke="#1a98d5" stroke-width="6"/>
 <path d="M460,560 C470,620 540,660 620,690" stroke-width="5"/>
 <path d="M0,565 L440,572 M0,592 L450,602 M0,622 L540,648 M0,652 L540,672" stroke="#1a98d5" stroke-width="7"/>
 <path d="M595,820 L830,740" stroke-width="5"/>
 <path d="M0,990 C100,1050 200,1100 300,1112 C400,1112 450,1085 470,1060" stroke-width="5"/>
 <path d="M0,1040 L50,1075 L55,1130 L0,1100" stroke-width="5"/>
 <path d="M65,470 C60,455 85,455 105,478 L440,780 L530,840 L420,880 L380,860 C300,800 200,720 100,690 L95,672 L200,660 C140,600 80,520 65,470 Z" fill="#fff" stroke="none"/>
 <path d="M65,470 C60,455 85,455 105,478 L440,780 M65,470 C70,510 130,580 210,660 L430,800 M100,675 L400,790 M95,690 C200,730 320,810 420,880" />
 <ellipse cx="390" cy="820" rx="20" ry="22" stroke-width="5"/>
 <path d="M530,840 C560,815 660,818 780,840 C900,860 965,900 965,950 L965,1240 L560,1240 L490,960 L440,880 Z" fill="#fff" stroke="none"/>
 <path d="M530,840 C560,815 660,818 780,840 C900,860 965,900 965,950" />
 <path d="M530,840 C520,870 540,890 600,900 L965,1000" stroke-width="5"/>
 <path d="M710,880 C740,860 840,880 860,930 C870,970 820,990 760,970 C720,950 700,910 710,880 Z" stroke-width="5.5"/>
 <path d="M440,880 L480,960 L560,1240 M500,880 C560,950 650,1050 800,1240 M560,1000 C620,1070 700,1150 730,1240" />
 <path d="M620,1170 C640,1150 665,1190 680,1240" stroke-width="5"/>
 <path d="M660,1040 L700,1000 M700,1010 L965,1100 M840,1130 L965,1140 M750,1240 L965,1200" stroke-width="5"/>
</g>
<g transform="translate(560,1105) scale(0.17)" stroke-width="6.5">
 <path d="M460,490 L1000,300" />
 <path d="M680,745 L920,635" stroke-width="5"/>
 <path d="M660,790 L1000,1075 L1000,1130 L650,850 Z M665,830 L1000,1110" stroke-width="5"/>
 <path d="M655,800 L690,1140" stroke-width="5"/>
 <path d="M940,25 C960,60 980,90 1000,100" />
 <path d="M220,470 C300,455 400,470 460,490 C500,510 540,520 580,525 L775,535 C770,600 740,660 700,720 C670,760 655,800 655,850 C660,950 680,1100 690,1240 L225,1240 C200,1150 170,1050 150,990 C230,950 270,880 300,820 C330,760 380,720 430,690 C470,660 490,640 495,610 L450,535 L380,545 C330,555 300,570 270,580 Z" fill="#e0f3fc" stroke="none"/>
 <path d="M270,580 L220,470 C300,455 400,470 460,490 C500,510 540,520 580,525 L775,535 C770,600 740,660 700,720 C670,760 655,800 655,850 C660,950 680,1100 690,1240 M225,1240 C200,1150 170,1050 150,990 C230,950 270,880 300,820 C330,760 380,720 430,690 C470,660 490,640 495,610 M380,545 C330,555 300,570 270,580"/>
 <path d="M220,470 C230,440 270,420 300,390" stroke-width="4.5"/>
 <path d="M25,300 C100,280 150,240 210,240 C280,250 320,320 340,400 C345,430 355,450 365,465 L220,470 C230,520 250,560 270,580 L210,800 L25,800 Z" fill="#fff" stroke="none"/>
 <path d="M25,300 C100,280 150,240 210,240 C280,250 320,320 340,400 C345,430 355,450 365,465" fill="none"/>
 <path d="M220,470 C235,520 255,560 270,580" />
 <path d="M135,925 L150,990" stroke-width="5"/>
 <path d="M245,525 L775,555 M270,562 L775,592 M510,605 L760,625" stroke="#1a98d5" stroke-width="6" stroke-dasharray="24,12"/>
 <path d="M775,555 L1000,562 M775,590 L1000,598 M760,625 L1000,640 M740,645 L1000,660" stroke="#1a98d5" stroke-width="7"/>
 <path d="M380,575 C420,530 500,540 500,590 C500,630 470,650 430,660 C410,660 395,640 385,620 Z" fill="#fff" stroke="none"/>
 <path d="M400,560 C430,530 495,540 500,590 C502,625 480,645 455,650 M360,750 C400,700 450,680 480,650" />
 <path d="M395,575 L430,555 L460,620 L425,650 C410,645 400,630 392,600 Z" stroke-width="4.5"/>
 <path d="M950,565 L1000,610 M970,570 L1000,595" stroke-width="5"/>
</g>
</g>

</svg>
<div class="a" style="left:406px;top:687.5px;font-size:37px;line-height:40px;font-style:italic;color:#d8262a;letter-spacing:2px;transform:scaleX(1.1);transform-origin:0 0;">McGrp.Ru</div>
</body></html>
